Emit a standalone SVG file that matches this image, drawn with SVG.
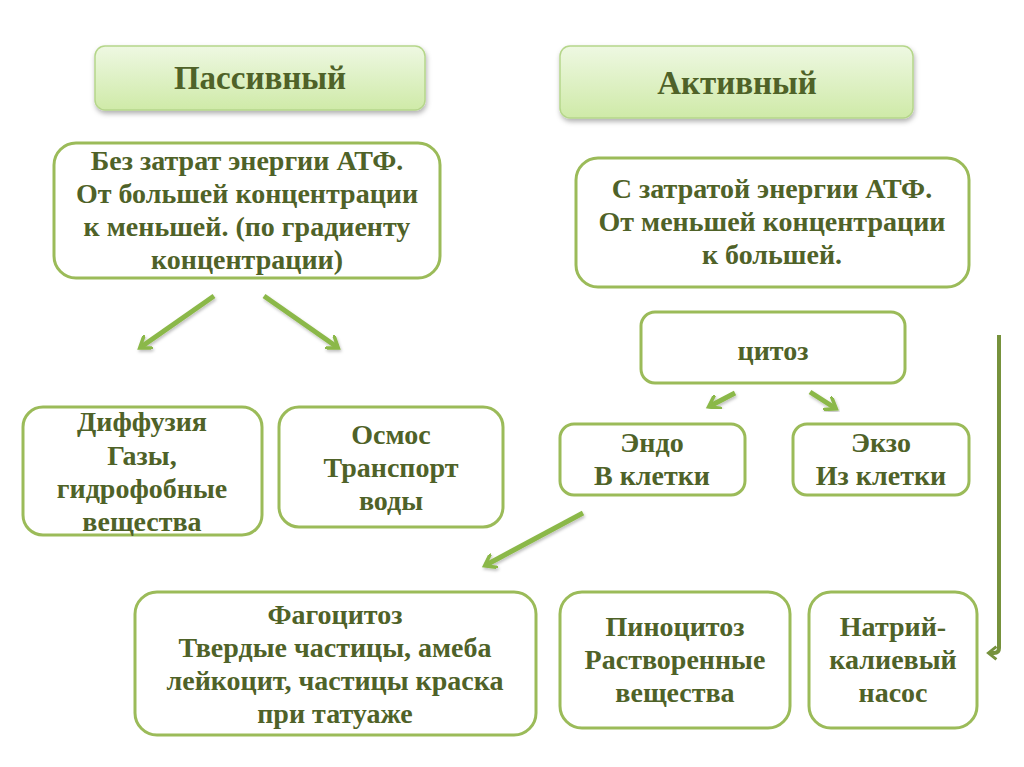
<svg xmlns="http://www.w3.org/2000/svg" width="1024" height="767" viewBox="0 0 1024 767">
<defs>
<linearGradient id="hg" x1="0" y1="0" x2="0" y2="1">
<stop offset="0" stop-color="#eef8e2"/>
<stop offset="1" stop-color="#cfeaa8"/>
</linearGradient>
<filter id="sh" x="-10%" y="-20%" width="120%" height="150%">
<feDropShadow dx="1" dy="3" stdDeviation="2.5" flood-color="#000" flood-opacity="0.3"/>
</filter>
<filter id="ash" x="-20%" y="-20%" width="140%" height="140%">
<feDropShadow dx="1" dy="2" stdDeviation="1.5" flood-color="#000" flood-opacity="0.25"/>
</filter>
<marker id="ah" viewBox="0 0 10 10" refX="6" refY="5" markerWidth="3.2" markerHeight="3.2" orient="auto">
<path d="M0,0 L7,5 L0,10" fill="none" stroke="#8bb848" stroke-width="2.2"/>
</marker>
<marker id="ah2" viewBox="0 0 10 10" refX="5" refY="5" markerWidth="4" markerHeight="4" orient="auto">
<path d="M1,1 L6,5 L1,9" fill="none" stroke="#76923c" stroke-width="1.8"/>
</marker>
</defs>
<style>
.hdr{fill:url(#hg);stroke:#b5d68a;stroke-width:1.5;filter:url(#sh)}
.box{fill:#fff;stroke:#9bbb59;stroke-width:3}
text{font-family:'Liberation Serif','DejaVu Serif','Times New Roman',serif;font-weight:bold;font-size:28px;fill:#4f6228;text-anchor:middle}
.h{font-size:33px}
.ar{fill:none;stroke:#8bb848;stroke-width:5;marker-end:url(#ah);filter:url(#ash)}
</style>
<rect width="1024" height="767" fill="#fff"/>
<g id="passive"><rect class="hdr" x="95" y="46" width="330" height="64" rx="10"/><text class="h" x="260" y="89">Пассивный</text></g>
<g id="active"><rect class="hdr" x="560" y="46" width="353" height="72" rx="10"/><text class="h" x="737" y="94">Активный</text></g>
<g id="passive-desc"><rect class="box" x="54" y="143" width="386" height="135" rx="22"/>
<text x="247" y="170">Без затрат энергии АТФ.</text>
<text x="247" y="203">От большей концентрации</text>
<text x="247" y="236">к меньшей. (по градиенту</text>
<text x="247" y="269">концентрации)</text></g>
<g id="active-desc"><rect class="box" x="576" y="158" width="393" height="129" rx="22"/>
<text x="772" y="198">С затратой энергии АТФ.</text>
<text x="772" y="231">От меньшей концентрации</text>
<text x="772" y="264">к большей.</text></g>
<g id="cytosis"><rect class="box" x="641" y="312" width="264" height="71" rx="14"/>
<text x="773" y="360">цитоз</text></g>
<g id="diffusion"><rect class="box" x="23" y="407" width="239" height="128" rx="20"/>
<text x="142" y="431">Диффузия</text>
<text x="142" y="465">Газы,</text>
<text x="142" y="498">гидрофобные</text>
<text x="142" y="531">вещества</text></g>
<g id="osmosis"><rect class="box" x="279" y="407" width="224" height="120" rx="20"/>
<text x="391" y="444">Осмос</text>
<text x="391" y="477">Транспорт</text>
<text x="391" y="510">воды</text></g>
<g id="endo"><rect class="box" x="560" y="424" width="185" height="71" rx="14"/>
<text x="652" y="452">Эндо</text>
<text x="652" y="485">В клетки</text></g>
<g id="exo"><rect class="box" x="793" y="424" width="176" height="71" rx="14"/>
<text x="881" y="452">Экзо</text>
<text x="881" y="485">Из клетки</text></g>
<g id="phago"><rect class="box" x="135" y="592" width="401" height="143" rx="22"/>
<text x="335" y="624">Фагоцитоз</text>
<text x="335" y="657">Твердые частицы, амеба</text>
<text x="335" y="690">лейкоцит, частицы краска</text>
<text x="335" y="723">при татуаже</text></g>
<g id="pino"><rect class="box" x="560" y="592" width="230" height="136" rx="22"/>
<text x="675" y="636">Пиноцитоз</text>
<text x="675" y="669">Растворенные</text>
<text x="675" y="702">вещества</text></g>
<g id="napump"><rect class="box" x="809" y="592" width="168" height="136" rx="22"/>
<text x="893" y="636">Натрий-</text>
<text x="893" y="669">калиевый</text>
<text x="893" y="702">насос</text></g>
<g id="connectors">
<line class="ar" x1="214" y1="296" x2="141" y2="347"/>
<line class="ar" x1="264" y1="296" x2="337" y2="347"/>
<line class="ar" x1="735" y1="393" x2="710" y2="406"/>
<line class="ar" x1="810" y1="392" x2="835" y2="408"/>
<line class="ar" x1="583" y1="513" x2="486" y2="565"/>
<line class="ar" x1="688" y1="513" x2="688" y2="570"/>
<path d="M999,335 L999,648 Q999,653 994,653 L990,653" fill="none" stroke="#76923c" stroke-width="4" marker-end="url(#ah2)"/>
</g>
</svg>
